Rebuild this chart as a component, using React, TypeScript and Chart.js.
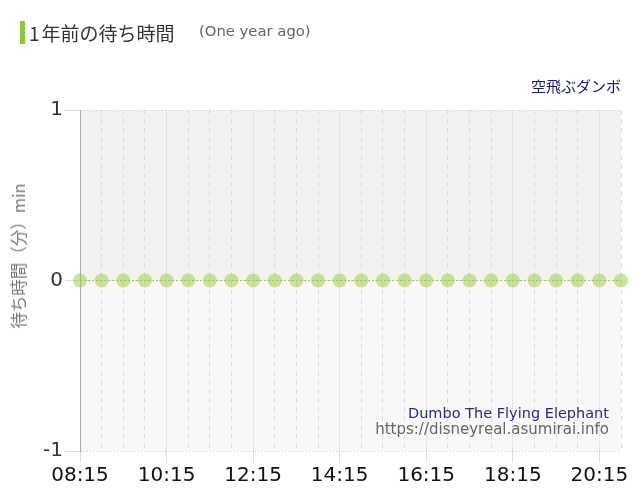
import React, { useEffect, useRef } from 'react';
import { Chart, registerables } from 'chart.js';

Chart.register(...registerables);

// 30分刻みの時刻
const timeLabels = [
  '08:15', '08:45', '09:15', '09:45', '10:15', '10:45', '11:15', '11:45',
  '12:15', '12:45', '13:15', '13:45', '14:15', '14:45', '15:15', '15:45',
  '16:15', '16:45', '17:15', '17:45', '18:15', '18:45', '19:15', '19:45',
  '20:15', '20:45',
];

// 待ち時間 (分)
const waitMinutes = [
  0, 0, 0, 0, 0, 0, 0, 0, 0, 0, 0, 0, 0,
  0, 0, 0, 0, 0, 0, 0, 0, 0, 0, 0, 0, 0,
];

const yTicks = [-1, 0, 1];

const TICK_FONT = 'DejaVu Sans, Verdana, sans-serif';
const JP_FONT = '"Noto Sans CJK JP", "DejaVu Sans", sans-serif';

// 上下で背景色を塗り分け
const bandPlugin = {
  id: 'bands',
  beforeDraw(chart: any) {
    const { ctx, chartArea: a, scales } = chart;
    const y0 = scales.y.getPixelForValue(0);
    ctx.save();
    ctx.fillStyle = '#f2f2f2';
    ctx.fillRect(a.left, a.top, a.right - a.left, y0 - a.top);
    ctx.fillStyle = '#f8f8f8';
    ctx.fillRect(a.left, y0, a.right - a.left, a.bottom - y0);
    ctx.restore();
  },
};

export default function App() {
  const canvasRef = useRef<HTMLCanvasElement>(null);

  useEffect(() => {
    if (!canvasRef.current) return;
    const chart = new Chart(canvasRef.current, {
      type: 'line',
      data: {
        labels: timeLabels,
        datasets: [{
          data: waitMinutes,
          borderColor: '#9fcd42',
          borderWidth: 1,
          borderDash: [2, 2],
          pointRadius: 7,
          pointHoverRadius: 7,
          pointBorderWidth: 0,
          pointBackgroundColor: 'rgba(155, 204, 70, 0.52)',
          clip: false,
        }],
      },
      options: {
        animation: false,
        responsive: true,
        maintainAspectRatio: false,
        layout: { padding: { top: 110, right: 19, left: 0, bottom: 0 } },
        plugins: { legend: { display: false }, tooltip: { enabled: false } },
        scales: {
          x: {
            type: 'category',
            offset: false,
            afterFit: (s: any) => { s.height = 49; },
            ticks: {
              autoSkip: false,
              maxRotation: 0,
              padding: 2,
              color: '#111',
              font: { family: TICK_FONT, size: 20 },
              callback: (_v: any, i: number) => (i % 4 === 0 ? timeLabels[i] : ''),
            },
            grid: {
              color: (c: any) => (c.index % 4 === 0 ? '#d2d2d2' : '#dddddd'),
              tickColor: (c: any) => (c.index % 4 === 0 ? '#dcdcdc' : 'rgba(0,0,0,0)'),
              tickLength: 11,
            },
            border: {
              display: false,
              dash: (c: any) => (c.index % 4 === 0 ? [1, 1] : [5, 4]),
            },
          },
          y: {
            min: -1,
            max: 1,
            afterFit: (s: any) => { s.width = 80; },
            afterBuildTicks: (s: any) => { s.ticks = yTicks.map(v => ({ value: v })); },
            ticks: {
              stepSize: 1,
              padding: 2,
              color: '#333',
              font: { family: TICK_FONT, size: 20 },
            },
            grid: {
              color: '#cfcfcf',
              tickColor: '#dedede',
              tickLength: 15,
            },
            border: { display: true, color: '#aaaaaa', width: 1, dash: [1, 2] },
          },
        },
      },
      plugins: [bandPlugin],
    });
    return () => chart.destroy();
  }, []);

  return (
    <div style={{ position: 'absolute', left: 0, top: 0, width: 640, height: 500, background: '#fff', overflow: 'hidden' }}>
      <div style={{ position: 'absolute', left: 0, top: 0, width: 640, height: 500 }}>
        <canvas ref={canvasRef} />
      </div>

      {/* タイトル */}
      <div style={{ position: 'absolute', left: 20, top: 21, width: 5, height: 23, background: '#8cc63f' }} />
      <div style={{ position: 'absolute', left: 29, top: 18, fontFamily: JP_FONT, fontSize: 19, lineHeight: '30px', color: '#333', whiteSpace: 'nowrap' }}>
        <span style={{ marginRight: 2 }}>1</span>年前の待ち時間
      </div>
      <div style={{ position: 'absolute', left: 199, top: 21, fontFamily: TICK_FONT, fontSize: 14.8, lineHeight: '20px', color: '#666', whiteSpace: 'nowrap' }}>
        (One year ago)
      </div>

      {/* アトラクション名 */}
      <div style={{ position: 'absolute', right: 19, top: 76, fontFamily: JP_FONT, fontSize: 15, lineHeight: '20px', color: '#1a1a6e', whiteSpace: 'nowrap' }}>
        空飛ぶダンボ
      </div>

      {/* Y軸タイトル */}
      <div style={{
        position: 'absolute', left: 18, top: 256, transform: 'translate(-50%, -50%) rotate(-90deg)',
        fontFamily: JP_FONT, fontSize: 16.5, lineHeight: '18px', color: '#777', whiteSpace: 'nowrap',
      }}>
        待ち時間（分）min
      </div>

      {/* 透かし */}
      <div style={{ position: 'absolute', right: 31, top: 405, textAlign: 'right', fontFamily: TICK_FONT, lineHeight: '16px', whiteSpace: 'nowrap' }}>
        <div style={{ color: '#2a2a7e', fontSize: 14.5 }}>Dumbo The Flying Elephant</div>
        <div style={{ color: '#666', fontSize: 15 }}>https://disneyreal.asumirai.info</div>
      </div>
    </div>
  );
}
